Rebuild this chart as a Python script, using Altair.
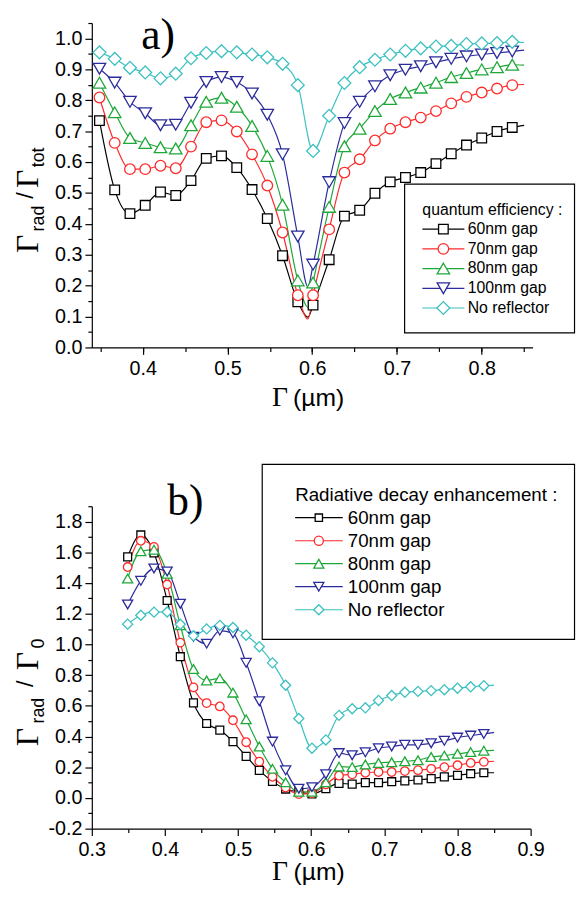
import altair as alt
import pandas as pd

SANS = "Liberation Sans, Arial, Helvetica, sans-serif"
SERIF = "Liberation Serif, Times New Roman, serif"

SERIES = ["60nm gap", "70nm gap", "80nm gap", "100nm gap", "No reflector"]
COLORS = ["#000000", "#ff2a2a", "#1ea838", "#2b2b9c", "#3cc0c0"]
SHAPES = ["square", "circle", "triangle-up", "triangle-down", "diamond"]

# wavelength grid (µm) of the markers
WAVELENGTH = [0.349, 0.367, 0.385, 0.403, 0.421, 0.439, 0.457, 0.475, 0.493, 0.511,
              0.529, 0.547, 0.565, 0.583, 0.601, 0.620, 0.638, 0.656, 0.674, 0.692,
              0.710, 0.728, 0.746, 0.764, 0.782, 0.800, 0.818, 0.836]
X_END = 0.85
X_DIP = 0.595

# panel a) quantum efficiency
QE_60 = [0.734, 0.510, 0.433, 0.460, 0.503, 0.492, 0.540, 0.612, 0.620, 0.582,
         0.511, 0.417, 0.297, 0.148, 0.137, 0.284, 0.425, 0.444, 0.499, 0.536,
         0.550, 0.566, 0.595, 0.627, 0.655, 0.678, 0.699, 0.712]
QE_70 = [0.809, 0.662, 0.577, 0.577, 0.588, 0.580, 0.650, 0.729, 0.735, 0.699,
         0.625, 0.524, 0.372, 0.169, 0.169, 0.382, 0.566, 0.609, 0.670, 0.708,
         0.729, 0.744, 0.765, 0.790, 0.811, 0.825, 0.838, 0.849]
QE_80 = [0.857, 0.761, 0.678, 0.662, 0.648, 0.644, 0.719, 0.795, 0.808, 0.779,
         0.717, 0.620, 0.462, 0.217, 0.210, 0.455, 0.651, 0.708, 0.765, 0.804,
         0.825, 0.841, 0.857, 0.875, 0.888, 0.900, 0.907, 0.915]
QE_100 = [0.902, 0.857, 0.795, 0.758, 0.719, 0.721, 0.792, 0.859, 0.875, 0.859,
          0.822, 0.753, 0.625, 0.359, 0.268, 0.535, 0.726, 0.795, 0.845, 0.881,
          0.899, 0.910, 0.923, 0.934, 0.942, 0.948, 0.953, 0.958]
QE_NONE = [0.955, 0.934, 0.905, 0.890, 0.871, 0.886, 0.936, 0.953, 0.959, 0.955,
           0.948, 0.939, 0.918, 0.849, 0.636, 0.750, 0.856, 0.907, 0.931, 0.948,
           0.960, 0.968, 0.974, 0.976, 0.982, 0.984, 0.985, 0.989]
QE_END = [0.719, 0.851, 0.914, 0.962, 0.987]
QE_DIP = [0.098, 0.092, 0.130, 0.196, None]

# panel b) radiative decay enhancement
RD_60 = [1.570, 1.713, 1.596, 1.286, 0.920, 0.619, 0.485, 0.442, 0.367, 0.271,
         0.180, 0.108, 0.058, 0.040, 0.026, 0.060, 0.095, 0.090, 0.100, 0.100,
         0.106, 0.111, 0.117, 0.126, 0.137, 0.147, 0.158, 0.164]
RD_70 = [1.504, 1.675, 1.635, 1.390, 1.012, 0.720, 0.618, 0.596, 0.506, 0.363,
         0.237, 0.138, 0.068, 0.025, 0.030, 0.088, 0.145, 0.154, 0.164, 0.169,
         0.169, 0.175, 0.181, 0.190, 0.201, 0.213, 0.228, 0.235]
RD_80 = [1.429, 1.607, 1.617, 1.460, 1.125, 0.840, 0.765, 0.779, 0.686, 0.512,
         0.335, 0.190, 0.102, 0.040, 0.040, 0.102, 0.204, 0.201, 0.218, 0.228,
         0.233, 0.239, 0.246, 0.267, 0.276, 0.288, 0.299, 0.308]
RD_100 = [1.260, 1.414, 1.494, 1.475, 1.265, 1.050, 1.005, 1.090, 1.072, 0.880,
          0.630, 0.367, 0.180, 0.060, 0.070, 0.154, 0.292, 0.278, 0.297, 0.324,
          0.335, 0.346, 0.346, 0.356, 0.372, 0.393, 0.406, 0.417]
RD_NONE = [1.132, 1.190, 1.210, 1.211, 1.131, 1.056, 1.101, 1.124, 1.110, 1.060,
           0.985, 0.880, 0.734, 0.517, 0.324, 0.378, 0.538, 0.581, 0.587, 0.635,
           0.667, 0.688, 0.694, 0.699, 0.705, 0.715, 0.724, 0.731]
RD_END = [0.164, 0.239, 0.310, 0.427, 0.735]
RD_DIP = [None, None, None, None, None]

# axes
A_X_MAJOR = [0.4, 0.5, 0.6, 0.7, 0.8]
A_X_MINOR = [0.35, 0.4, 0.45, 0.5, 0.55, 0.6, 0.65, 0.7, 0.75, 0.8, 0.85]
A_Y_MAJOR = [0.0, 0.1, 0.2, 0.3, 0.4, 0.5, 0.6, 0.7, 0.8, 0.9, 1.0]
A_Y_MINOR = [0.05, 0.15, 0.25, 0.35, 0.45, 0.55, 0.65, 0.75, 0.85, 0.95, 1.05]
B_X_MAJOR = [0.3, 0.4, 0.5, 0.6, 0.7, 0.8, 0.9]
B_X_MINOR = [0.35, 0.45, 0.55, 0.65, 0.75, 0.85]
B_Y_MAJOR = [-0.2, 0.0, 0.2, 0.4, 0.6, 0.8, 1.0, 1.2, 1.4, 1.6, 1.8]
B_Y_MINOR = [-0.1, 0.1, 0.3, 0.5, 0.7, 0.9, 1.1, 1.3, 1.5, 1.7, 1.9]

LABEL_EXPR = "datum.value < 0 ? '-' + format(-datum.value, '.1f') : format(datum.value, '.1f')"


def frames(values, end_vals, dip_vals):
    pts, lines = [], []
    for name, vals, end, dip in zip(SERIES, values, end_vals, dip_vals):
        for x, y in zip(WAVELENGTH, vals):
            pts.append({"x": x, "y": y, "series": name})
            lines.append({"x": x, "y": y, "series": name})
        lines.append({"x": X_END, "y": end, "series": name})
        if dip is not None:
            lines.append({"x": X_DIP, "y": dip, "series": name})
    return pd.DataFrame(pts), pd.DataFrame(lines)


def major_axis(orient, vals):
    return alt.Axis(orient=orient, values=vals, title=None, grid=False,
                    domainColor="black", domainWidth=1.2, tickColor="black",
                    tickWidth=1.2, tickSize=7, labelFont=SANS, labelFontSize=20,
                    labelColor="black", labelPadding=3 if orient == "left" else 4,
                    labelExpr=LABEL_EXPR, labelOverlap=False, labelFlush=False)


def minor_axis(orient, vals):
    return alt.Axis(orient=orient, values=vals, title=None, grid=False, domain=False,
                    labels=False, tickColor="black", tickWidth=1.2, tickSize=4)


ONE = pd.DataFrame({"k": [0]})


def text(t, x, y, font, size, align="left", baseline="alphabetic", angle=0):
    return alt.Chart(ONE).mark_text(text=t, font=font, fontSize=size, align=align,
                                    baseline=baseline, angle=angle, color="black").encode(
        x=alt.value(x), y=alt.value(y))


def panel(values, end_vals, dip_vals, xdom, ydom, xmaj, xmin, ymaj, ymin, w, h,
          sizes, lsizes, extra, legend):
    pt_df, line_df = frames(values, end_vals, dip_vals)
    xs = alt.Scale(domain=xdom, nice=False, zero=False)
    ys = alt.Scale(domain=ydom, nice=False, zero=False)
    layers = []
    layers.append(alt.Chart(pt_df).mark_point(opacity=0).encode(
        x=alt.X("x:Q", scale=xs, axis=minor_axis("bottom", xmin)),
        y=alt.Y("y:Q", scale=ys, axis=minor_axis("left", ymin))))
    layers.append(alt.Chart(line_df).mark_line(interpolate="monotone", strokeWidth=1.2).encode(
        x=alt.X("x:Q", scale=xs, axis=major_axis("bottom", xmaj)),
        y=alt.Y("y:Q", scale=ys, axis=major_axis("left", ymaj)),
        stroke=alt.Stroke("series:N", scale=alt.Scale(domain=SERIES, range=COLORS), legend=None),
        detail="series:N"))
    for name, col, shp, sz in zip(SERIES, COLORS, SHAPES, sizes):
        layers.append(alt.Chart(pt_df[pt_df.series == name]).mark_point(
            shape=shp, size=sz, filled=True, fill="white", stroke=col,
            strokeWidth=1.3, opacity=1).encode(
            x=alt.X("x:Q", scale=xs, axis=None),
            y=alt.Y("y:Q", scale=ys, axis=None)))
    # legend
    (bx0, bx1, by0, by1, title, tx, ty, tsize, rows, rx0, rx1, mx, lx, lsize) = legend
    layers.append(alt.Chart(ONE).mark_rect(fill="white", stroke="black", strokeWidth=1.2).encode(
        x=alt.value(bx0), x2=alt.value(bx1), y=alt.value(by0), y2=alt.value(by1)))
    layers.append(text(title, tx, ty, SANS, tsize, baseline="middle"))
    for name, col, shp, sz, ry in zip(SERIES, COLORS, SHAPES, lsizes, rows):
        layers.append(alt.Chart(ONE).mark_rule(color=col, strokeWidth=1.2).encode(
            x=alt.value(rx0), x2=alt.value(rx1), y=alt.value(ry)))
        layers.append(alt.Chart(ONE).mark_point(
            shape=shp, size=sz, filled=True, fill="white", stroke=col,
            strokeWidth=1.3, opacity=1).encode(x=alt.value(mx), y=alt.value(ry)))
        layers.append(text(name, lx, ry, SANS, lsize, baseline="middle"))
    layers.extend(extra)
    return alt.layer(*layers).properties(width=w, height=h).resolve_axis(
        x="independent", y="independent")


extra_a = [
    text("a)", 50, -8.7, SERIF, 44, baseline="top"),
    text("Γ", -55, 233.3, SERIF, 32, angle=270),
    text("rad", -49, 211.3, SANS, 18, angle=270),
    text("/", -60, 178.3, SANS, 24, angle=270),
    text("Γ", -55, 167.3, SERIF, 32, angle=270),
    text("tot", -49, 146.3, SANS, 18, angle=270),
    text("Γ", 199, 388.3, SERIF, 28, align="right"),
    text("(µm)", 204, 388.3, SANS, 25),
]
legend_a = (317.2, 489.5, 163.3, 314.3, "quantum efficiency :", 335.2, 190, 16,
            [209, 229, 249, 269, 289], 335.2, 377.8, 356.5, 381.2, 16)

extra_b = [
    text("b)", 76.5, -26, SERIF, 44, baseline="top"),
    text("Γ", -55, 243.3, SERIF, 32, angle=270),
    text("rad", -49, 220.3, SANS, 18, angle=270),
    text("/", -60, 183.3, SANS, 24, angle=270),
    text("Γ", -55, 166.3, SERIF, 32, angle=270),
    text("0", -49, 144.3, SANS, 18, angle=270),
    text("Γ", 199, 379.3, SERIF, 28, align="right"),
    text("(µm)", 204.5, 379.3, SANS, 25),
]
legend_b = (172.8, 489.5, -42.4, 135, "Radiative decay enhancement :", 206.2, -11.7, 19,
            [11.6, 35, 58.3, 81.6, 105], 206.2, 254.5, 230.2, 259.5, 19)

panel_a = panel([QE_60, QE_70, QE_80, QE_100, QE_NONE], QE_END, QE_DIP,
                [0.34, 0.86], [0.0, 1.05], A_X_MAJOR, A_X_MINOR, A_Y_MAJOR, A_Y_MINOR,
                447, 329, [95, 115, 160, 160, 170], [95, 115, 160, 160, 170],
                extra_a, legend_a)
panel_b = panel([RD_60, RD_70, RD_80, RD_100, RD_NONE], RD_END, RD_DIP,
                [0.3, 0.9], [-0.2, 1.9], B_X_MAJOR, B_X_MINOR, B_Y_MAJOR, B_Y_MINOR,
                445, 327, [64, 75, 105, 105, 105], [55, 85, 105, 105, 105],
                extra_b, legend_b)

chart = alt.vconcat(panel_a, panel_b, spacing=161, bounds="flush").properties(
    padding={"left": 4, "top": 0, "right": 0, "bottom": 0}).configure_view(strokeWidth=0)

chart.save("out.html", embed_options={"renderer": "svg", "actions": False})
